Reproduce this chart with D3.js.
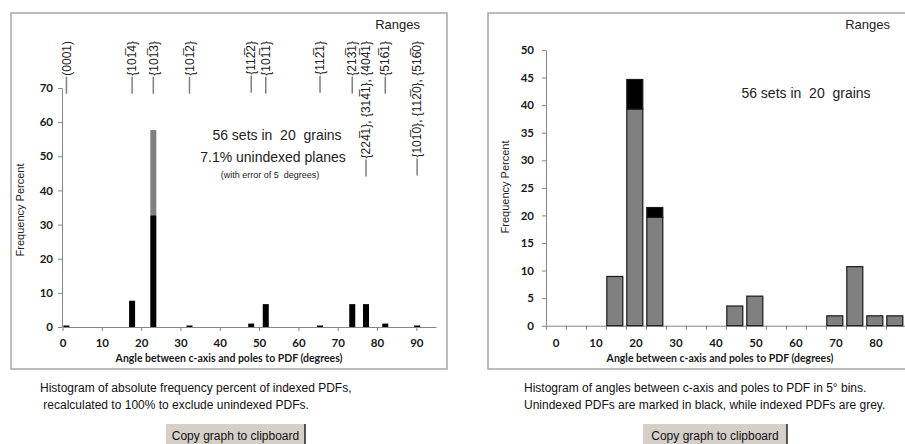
<!DOCTYPE html>
<html><head><meta charset="utf-8">
<script src="https://cdn.jsdelivr.net/npm/d3@7"></script>
<style>
body{margin:0;background:#fff;}
svg{display:block;font-family:"Liberation Sans",Arial,sans-serif;}
.tick text{font-family:Lato,"Liberation Sans",sans-serif;font-weight:bold;font-size:11.5px;fill:#1a1a1a;}
.axis path,.axis line{stroke:#868686;}
</style>
</head><body>
<svg id="c" width="905" height="444"></svg>
<script>
// ---------- LEFT CHART DATA ----------
const planeLabels = ["(0001)", "{101\u03054}", "{101\u03053}", "{101\u03052}", "{112\u03052}", "{101\u03051}",
  "{112\u03051}", "{213\u03051}", "{224\u03051}, {314\u03051}, {404\u03051}", "{516\u03051}", "{101\u03050}, {112\u03050}, {516\u03050}"];
const planeAngles = [1.0, 17.7, 23.1, 32.3, 48.0, 51.7, 65.5, 73.7, 77.2, 82.1, 90.2];
const blackPercent = [0, 7.7, 32.7, 0, 1.0, 6.7, 0, 6.7, 6.7, 1.0, 0];
const greyPercent  = [0, 0, 25.0, 0, 0, 0, 0, 0, 0, 0, 0];
const leftYTicks = [0, 10, 20, 30, 40, 50, 60, 70];
const leftXTicks = [0, 10, 20, 30, 40, 50, 60, 70, 80, 90];

// ---------- RIGHT CHART DATA ----------
const binStarts = [0,5,10,15,20,25,30,35,40,45,50,55,60,65,70,75,80,85];
const indexedBins   = [0,0,0,8.93,39.29,19.64,0,0,0,3.57,5.36,0,0,0,1.79,10.71,1.79,1.79];
const unindexedBins = [0,0,0,0,5.36,1.79,0,0,0,0,0,0,0,0,0,0,0,0];
const rightYTicks = [0,5,10,15,20,25,30,35,40,45,50];
const rightXLabels = [0,10,20,30,40,50,60,70,80];

const svg = d3.select("#c");
svg.append("rect").attr("width",905).attr("height",444).attr("fill","#fff");

// ================= LEFT =================
svg.append("rect").attr("x",11).attr("y",13).attr("width",436).attr("height",356)
  .attr("fill","#fff").attr("stroke","#a6a6a6").attr("stroke-width",1.5);

const xL = d3.scaleLinear().domain([0,95]).range([62.5,436]);
const yL = d3.scaleLinear().domain([0,70]).range([327,88]);

svg.append("g").attr("class","axis").attr("transform","translate(62,0)")
  .call(d3.axisLeft(yL).tickValues(leftYTicks).tickSize(4).tickPadding(5).tickSizeOuter(0));
svg.append("g").attr("class","axis").attr("transform","translate(0,327)")
  .call(d3.axisBottom(xL).tickValues(leftXTicks).tickSize(4).tickPadding(8).tickSizeOuter(0));

// bars
const bw = 6;
planeAngles.forEach((a,i)=>{
  const b = blackPercent[i], g = greyPercent[i];
  if (g > 0) svg.append("rect").attr("x",xL(a)-bw/2).attr("y",yL(b+g)).attr("width",bw)
      .attr("height",yL(b)-yL(b+g)).attr("fill","#808080");
  const h = Math.max(yL(0)-yL(b),1.5);
  svg.append("rect").attr("x",xL(a)-bw/2).attr("y",yL(0)-h).attr("width",bw)
      .attr("height",h).attr("fill","#000");
});

// range labels
planeLabels.forEach((t,i)=>{
  const x = xL(planeAngles[i]);
  const txt = svg.append("text").attr("transform",`translate(${x},41) rotate(-90)`)
    .attr("text-anchor","end").attr("dy","0.35em").attr("font-size",12).attr("fill","#222").text(t);
  const L = txt.node().getComputedTextLength();
  svg.append("line").attr("x1",x).attr("x2",x).attr("y1",41+L+1).attr("y2",41+L+18)
    .attr("stroke","#7f7f7f").attr("stroke-width",1.5);
});

svg.append("text").attr("x",420).attr("y",29).attr("text-anchor","end").attr("font-size",13).attr("fill","#222").text("Ranges");
svg.append("text").attr("x",277).attr("y",140).attr("text-anchor","middle").attr("font-size",14)
  .attr("fill","#222").style("white-space","pre").text("56 sets in  20  grains");
svg.append("text").attr("x",273).attr("y",162).attr("text-anchor","middle").attr("font-size",14)
  .attr("fill","#222").text("7.1% unindexed planes");
svg.append("text").attr("x",270).attr("y",178).attr("text-anchor","middle").attr("font-size",9)
  .attr("fill","#222").style("white-space","pre").text("(with error of 5  degrees)");

svg.append("text").attr("transform","translate(24,210) rotate(-90)").attr("text-anchor","middle")
  .attr("font-size",11).attr("fill","#222").text("Frequency Percent");
svg.append("text").attr("x",229).attr("y",362).attr("text-anchor","middle")
  .style("font-family","Lato,sans-serif").style("font-weight","bold").attr("font-size",10.5).attr("fill","#1a1a1a")
  .text("Angle between c-axis and poles to PDF (degrees)");

// ================= RIGHT =================
svg.append("rect").attr("x",488).attr("y",13).attr("width",440).attr("height",356)
  .attr("fill","#fff").attr("stroke","#a6a6a6").attr("stroke-width",1.5);

const xBand = d3.scaleBand().domain(binStarts).range([546,906]).paddingInner(0.2).paddingOuter(0.1).align(0.2);
const xR = d3.scaleLinear().domain([0,90]).range([546,906]);
const yR = d3.scaleLinear().domain([0,50]).range([325.7,50]);

svg.append("g").attr("class","axis").attr("transform","translate(546,0)")
  .call(d3.axisLeft(yR).tickValues(rightYTicks).tickSize(4).tickPadding(8).tickSizeOuter(0));
svg.append("g").attr("class","axis").attr("transform","translate(0,325.7)")
  .call(d3.axisBottom(xR).tickValues(binStarts.concat([90])).tickSize(4).tickFormat("").tickSizeOuter(0));
const xLab = d3.scaleBand().domain(binStarts).range([546,906]);
svg.append("g").attr("class","axis").attr("transform","translate(0,325.7)")
  .call(d3.axisBottom(xLab).tickValues(rightXLabels).tickSize(0).tickPadding(13))
  .call(g=>g.select(".domain").remove());

binStarts.forEach((s,i)=>{
  const gi = indexedBins[i], ui = unindexedBins[i];
  if (gi+ui <= 0) return;
  svg.append("rect").attr("x",xBand(s)).attr("y",yR(gi)).attr("width",xBand.bandwidth())
    .attr("height",yR(0)-yR(gi)).attr("fill","#808080").attr("stroke","#1a1a1a").attr("stroke-width",1.2);
  if (ui > 0) svg.append("rect").attr("x",xBand(s)).attr("y",yR(gi+ui)).attr("width",xBand.bandwidth())
    .attr("height",yR(gi)-yR(gi+ui)).attr("fill","#000").attr("stroke","#1a1a1a").attr("stroke-width",1.2);
});

svg.append("text").attr("x",890).attr("y",29).attr("text-anchor","end").attr("font-size",13).attr("fill","#222").text("Ranges");
svg.append("text").attr("x",806).attr("y",98).attr("text-anchor","middle").attr("font-size",14)
  .attr("fill","#222").style("white-space","pre").text("56 sets in  20  grains");
svg.append("text").attr("transform","translate(509,187) rotate(-90)").attr("text-anchor","middle")
  .attr("font-size",11).attr("fill","#222").text("Frequency Percent");
svg.append("text").attr("x",720).attr("y",362).attr("text-anchor","middle")
  .style("font-family","Lato,sans-serif").style("font-weight","bold").attr("font-size",10.5).attr("fill","#1a1a1a")
  .text("Angle between c-axis and poles to PDF (degrees)");

// ================= CAPTIONS & BUTTONS =================
const cap = (x,y,t)=>svg.append("text").attr("x",x).attr("y",y).attr("font-size",12).attr("fill","#111")
  .style("white-space","pre").text(t);
cap(40,392,"Histogram of absolute frequency percent of indexed PDFs,");
cap(40,409," recalculated to 100% to exclude unindexed PDFs.");
cap(524,392,"Histogram of angles between c-axis and poles to PDF in 5\u00b0 bins.");
cap(524,409,"Unindexed PDFs are marked in black, while indexed PDFs are grey.");

function button(x,w){
  svg.append("rect").attr("x",x).attr("y",424).attr("width",w).attr("height",22).attr("fill","#d4d0c8");
  svg.append("line").attr("x1",x+w).attr("x2",x+w).attr("y1",424).attr("y2",446).attr("stroke","#222").attr("stroke-width",1.5);
  svg.append("text").attr("x",x+w/2).attr("y",440).attr("text-anchor","middle").attr("font-size",12)
    .attr("fill","#111").text("Copy graph to clipboard");
}
button(166,139);
button(643,144);
</script>
</body></html>
